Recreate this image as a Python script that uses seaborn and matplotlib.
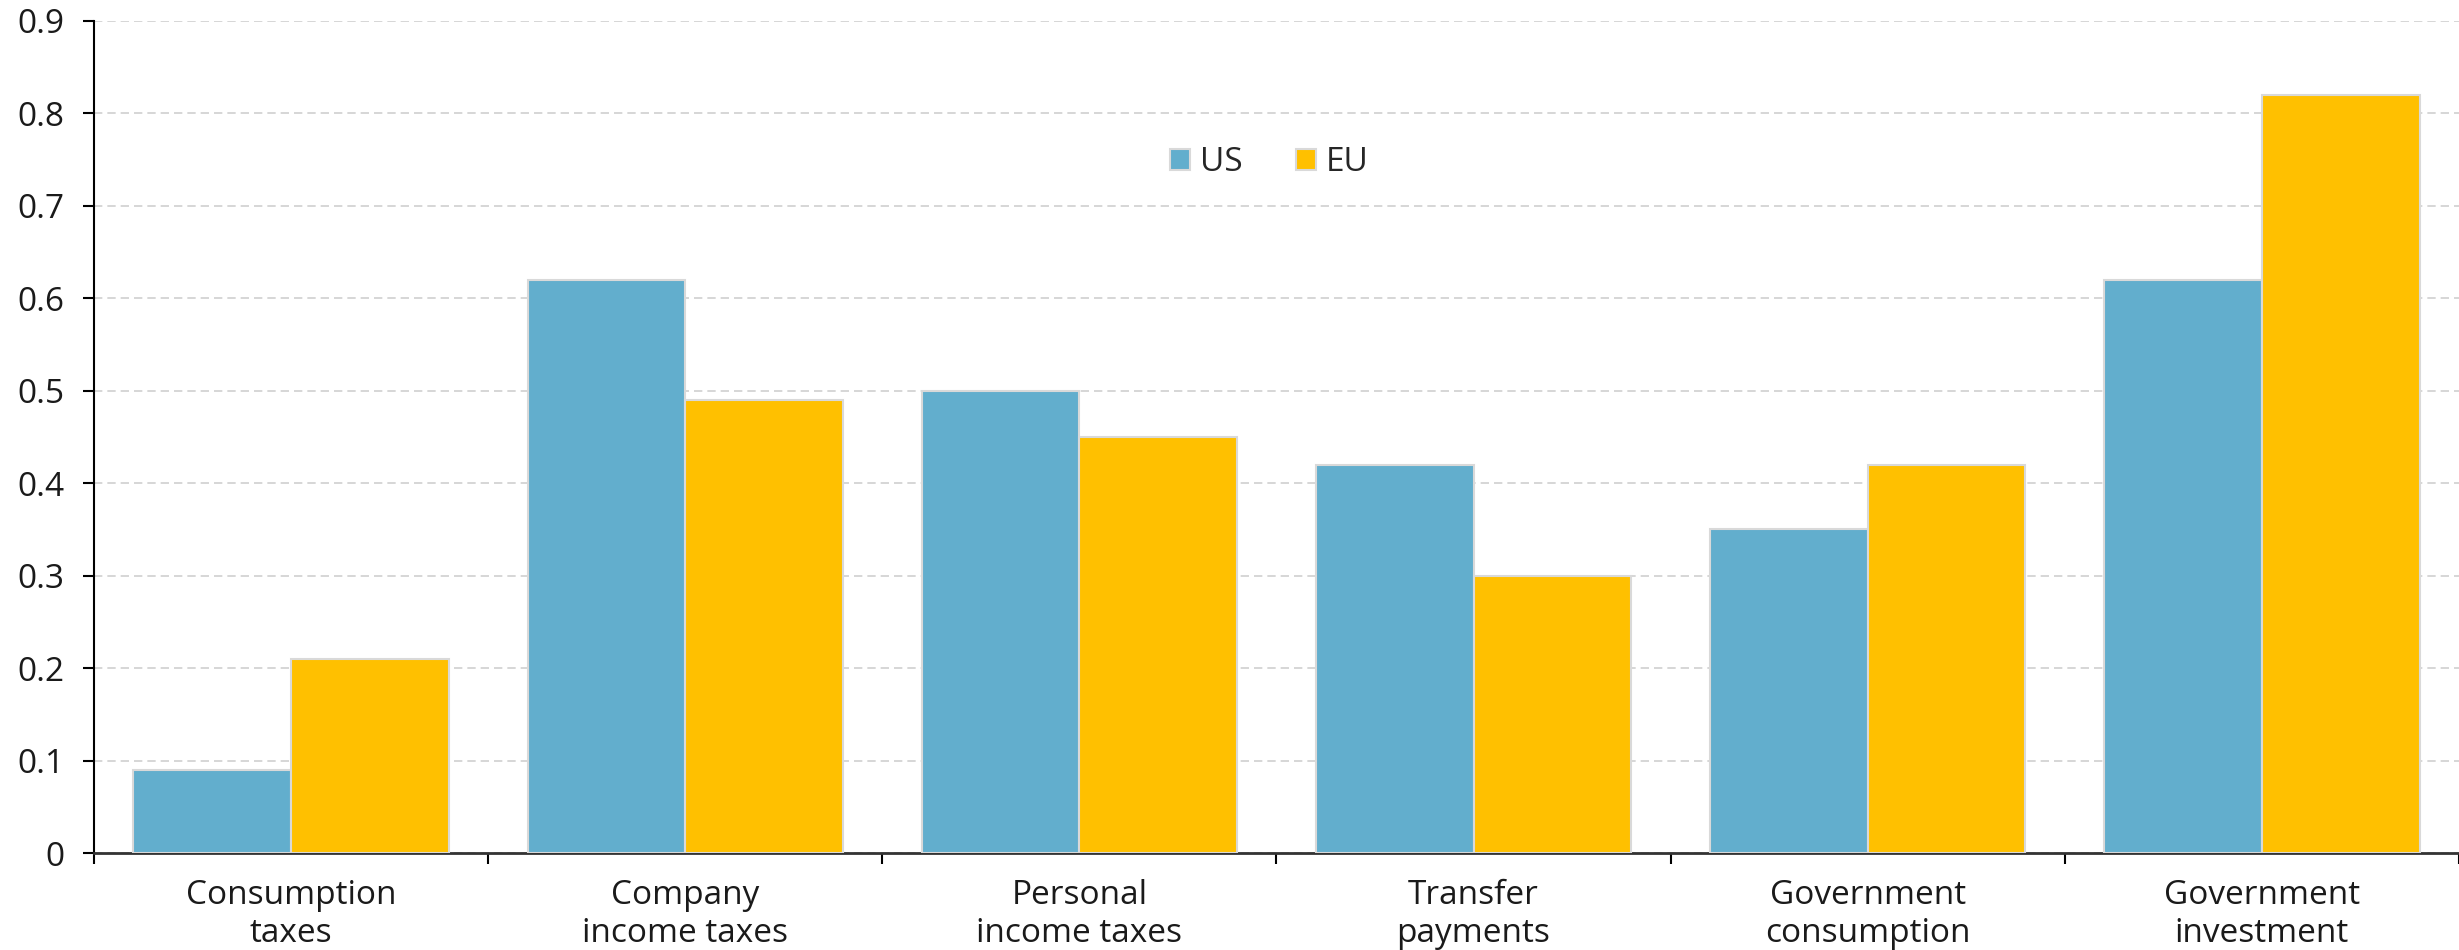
import pandas as pd
import seaborn as sns
import matplotlib.pyplot as plt
from matplotlib.ticker import FixedLocator

# data
categories = ['Consumption\ntaxes', 'Company\nincome taxes', 'Personal\nincome taxes',
              'Transfer\npayments', 'Government\nconsumption', 'Government\ninvestment']
us = [0.09, 0.62, 0.50, 0.42, 0.35, 0.62]
eu = [0.21, 0.49, 0.45, 0.30, 0.42, 0.82]
series = ['US', 'EU']
colors = ['#62AECD', '#FFC000']

df = pd.DataFrame({'category': categories * 2,
                   'value': us + eu,
                   'region': ['US'] * len(us) + ['EU'] * len(eu)})

sns.set_style('white')
plt.rcParams['font.family'] = ['Open Sans', 'DejaVu Sans']

fig = plt.figure(figsize=(24.59, 9.5), dpi=100)
ax = fig.add_axes([0.0382, 0.102, 0.9618, 0.876])

sns.barplot(data=df, x='category', y='value', hue='region', hue_order=series,
            palette=colors, width=0.8, edgecolor='#d9d9d9', linewidth=1.5,
            saturation=1, ax=ax, zorder=3)

ax.set_ylim(0, 0.9)
ax.set_xlim(-0.5, 5.5)
ax.set_yticks([i / 10 for i in range(10)])
ax.set_yticklabels(['0'] + [f'{i / 10:.1f}' for i in range(1, 10)])
ax.yaxis.grid(True, color='#d0d0d0', linestyle=(0, (5, 3)), linewidth=1.2, zorder=0)
ax.set_axisbelow(True)

ax.set_xlabel('')
ax.set_ylabel('')
ax.tick_params(axis='x', which='major', bottom=True, length=0, pad=19,
               labelsize=24, colors='#1a1a1a')
ax.xaxis.set_minor_locator(FixedLocator([i - 0.5 for i in range(7)]))
ax.tick_params(axis='x', which='minor', bottom=True, length=8, width=1.5,
               color='black', direction='out')
ax.tick_params(axis='y', left=True, length=8, width=1.5, color='black', direction='out',
               labelsize=24, pad=13, labelcolor='#1a1a1a')

for s in ['top', 'right']:
    ax.spines[s].set_visible(False)
ax.spines['left'].set_color('black')
ax.spines['left'].set_linewidth(1.5)
ax.spines['bottom'].set_color('#333333')
ax.spines['bottom'].set_linewidth(2)

leg = ax.legend(loc='center', bbox_to_anchor=(0.497, 0.83), ncol=2, frameon=False,
                fontsize=24, handlelength=0.6, handleheight=0.6, handletextpad=0.3,
                columnspacing=1.6)

fig.savefig('out.png', dpi=100)
